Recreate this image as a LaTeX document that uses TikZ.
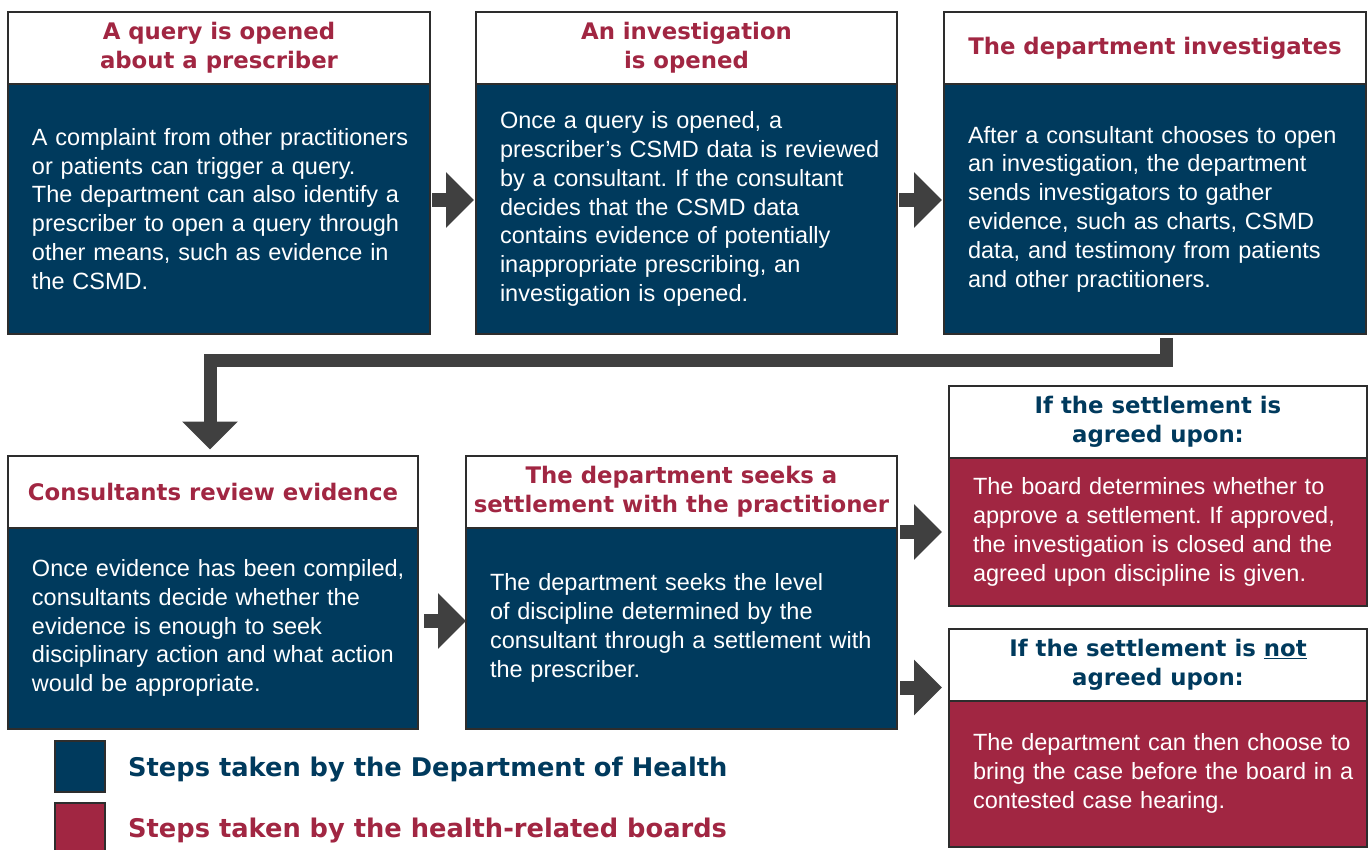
\documentclass[tikz,border=0pt]{standalone}
\usepackage{fontspec}
\setmainfont{Liberation Sans}
\newfontfamily\headfont{DejaVu Sans}
\usetikzlibrary{arrows.meta,positioning,calc}
\definecolor{healthnavy}{RGB}{0,58,93}
\definecolor{boardred}{RGB}{161,38,66}
\definecolor{arrowgray}{RGB}{64,64,64}
\definecolor{edgegray}{RGB}{45,45,45}
\frenchspacing

\begin{document}
\begin{tikzpicture}[x=1pt,y=-1pt,
  box/.style={draw=edgegray,line width=2pt,inner sep=0pt,outer sep=0pt},
  head/.style={box,fill=white,minimum width=#1,minimum height=72pt,
    align=center,font=\headfont\bfseries\fontsize{22.8}{29}\selectfont},
  body/.style={box,text=white,text width=#1,minimum width=#1,align=left,
    execute at begin node={\leftskip=24pt},
    font=\fontsize{23.5}{28.8}\selectfont},
  dept/.style={fill=healthnavy},
  board/.style={fill=boardred},
  flow/.style={arrowgray,line width=14pt,line join=miter,
    -{Triangle[length=28pt,width=54pt]}}]
  \useasboundingbox (0,0) rectangle (1369,850);

  % Top row: query -> investigation
  \node[head=422pt,text=boardred] (h1) at (219,48) {A query is opened\\about a prescriber};
  \node[body=422pt,dept,minimum height=250pt,below=0pt of h1] (b1)
    {A complaint from other practitioners\\or patients can trigger a query.\\The department can also identify a\\prescriber to open a query through\\other means, such as evidence in\\the CSMD.};

  \node[head=421pt,text=boardred] (h2) at (686.5,48) {An investigation\\is opened};
  \node[body=421pt,dept,minimum height=250pt,below=0pt of h2] (b2)
    {Once a query is opened, a\\prescriber’s CSMD data is reviewed\\by a consultant. If the consultant\\decides that the CSMD data\\contains evidence of potentially\\inappropriate prescribing, an\\investigation is opened.};

  \node[head=422pt,text=boardred] (h3) at (1155,48) {The department investigates};
  \node[body=422pt,dept,minimum height=250pt,below=0pt of h3] (b3)
    {After a consultant chooses to open\\an investigation, the department\\sends investigators to gather\\evidence, such as charts, CSMD\\data, and testimony from patients\\and other practitioners.};

  \foreach \a/\b in {b1/b2,b2/b3}
    \draw[flow,shorten <=2pt,shorten >=2pt] ([yshift=9pt]\a.east) -- ([yshift=9pt]\b.west);

  % Bottom row: review -> settlement
  \node[head=410pt,text=boardred] (h4) at (213,491.5) {Consultants review evidence};
  \node[body=410pt,dept,minimum height=201pt,below=0pt of h4] (b4)
    {Once evidence has been compiled,\\consultants decide whether the\\evidence is enough to seek\\disciplinary action and what action\\would be appropriate.};

  \node[head=431pt,text=boardred] (h5) at (681.5,491.5) {The department seeks a\\settlement with the practitioner};
  \node[body=431pt,dept,minimum height=201pt,below=0pt of h5] (b5)
    {The department seeks the level\\of discipline determined by the\\consultant through a settlement with\\the prescriber.};

  \node[head=418pt,text=healthnavy] (h6) at (1158,422) {If the settlement is\\agreed upon:};
  \node[body=418pt,board,minimum height=148pt,below=0pt of h6] (b6)
    {The board determines whether to\\approve a settlement. If approved,\\the investigation is closed and the\\agreed upon discipline is given.};

  \node[head=418pt,text=healthnavy] (h7) at (1158,664.5) {If the settlement is \underline{not}\\agreed upon:};
  \node[body=418pt,board,minimum height=146pt,below=0pt of h7] (b7)
    {The department can then choose to\\bring the case before the board in a\\contested case hearing.};

  % Connectors
  \coordinate (bend) at ($(h4.north)+(-3,-95)$);
  \draw[flow,line width=13pt,shorten >=6pt] ($(b3.south)+(11,4)$) |- (bend) -- (bend |- h4.north);
  \draw[flow,shorten <=6pt] ([yshift=7pt]b4.east) -- ([yshift=7pt]b5.west);
  \draw[flow,shorten <=3pt,shorten >=7pt] (b5.east |- b6.west) -- (b6.west);
  \draw[flow,shorten <=3pt,shorten >=7pt] ($(b5.east |- h7.south)+(0,-13)$) -- ($(h7.south west)+(0,-13)$);

  % Legend
  \node[box,dept,minimum width=50pt,minimum height=51pt] (k1) at (80,766.5) {};
  \node[right=23pt of k1,yshift=-3pt,inner sep=0pt,text=healthnavy,
    font=\headfont\bfseries\fontsize{25.7}{30}\selectfont] (l1) {Steps taken by the Department of Health};
  \node[box,board,minimum width=50pt,minimum height=51pt] (k2) at (80,828) {};
  \node[right=23pt of k2,yshift=-3pt,inner sep=0pt,text=boardred,
    font=\headfont\bfseries\fontsize{25.7}{30}\selectfont] (l2) {Steps taken by the health-related boards};
\end{tikzpicture}
\end{document}
